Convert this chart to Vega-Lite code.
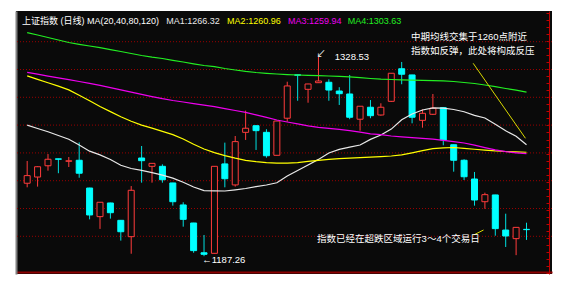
{
  "$schema": "https://vega.github.io/schema/vega-lite/v6.json",
  "width": 536,
  "height": 263,
  "autosize": "none",
  "padding": {"left": 16, "top": 11, "right": 18, "bottom": 15},
  "background": "#ffffff",
  "view": {"fill": "#0a0a0a", "stroke": null},
  "datasets": {
    "candles": [
      {"i":1,"o":1239.0,"h":1254.8,"l":1236.1,"c":1244.4,"MA1":1280.17,"MA2":1315.13,"MA3":1317.61,"MA4":1345.77},
      {"i":2,"o":1243.4,"h":1251.0,"l":1236.6,"c":1250.7,"MA1":1277.83,"MA2":1312.65,"MA3":1316.34,"MA4":1344.14},
      {"i":3,"o":1251.4,"h":1259.7,"l":1247.9,"c":1256.0,"MA1":1275.49,"MA2":1310.24,"MA3":1314.99,"MA4":1342.37},
      {"i":4,"o":1256.3,"h":1256.4,"l":1246.1,"c":1256.0,"MA1":1272.86,"MA2":1307.9,"MA3":1313.78,"MA4":1340.59},
      {"i":5,"o":1254.6,"h":1257.6,"l":1250.5,"c":1254.9,"MA1":1270.17,"MA2":1305.2,"MA3":1312.43,"MA4":1338.82},
      {"i":6,"o":1255.3,"h":1268.0,"l":1242.9,"c":1246.1,"MA1":1266.12,"MA2":1301.44,"MA3":1311.16,"MA4":1337.54},
      {"i":7,"o":1235.6,"h":1235.8,"l":1213.4,"c":1216.5,"MA1":1261.73,"MA2":1297.54,"MA3":1309.81,"MA4":1336.34},
      {"i":8,"o":1215.3,"h":1225.6,"l":1206.6,"c":1225.5,"MA1":1259.1,"MA2":1293.43,"MA3":1308.39,"MA4":1335.13},
      {"i":9,"o":1225.0,"h":1225.2,"l":1213.9,"c":1218.1,"MA1":1255.84,"MA2":1289.81,"MA3":1306.83,"MA4":1333.78},
      {"i":10,"o":1212.7,"h":1212.9,"l":1198.3,"c":1204.6,"MA1":1251.73,"MA2":1286.12,"MA3":1305.2,"MA4":1332.43},
      {"i":11,"o":1201.1,"h":1237.0,"l":1189.0,"c":1234.0,"MA1":1249.46,"MA2":1282.93,"MA3":1303.57,"MA4":1331.02},
      {"i":12,"o":1256.9,"h":1265.4,"l":1239.4,"c":1255.0,"MA1":1248.1,"MA2":1280.24,"MA3":1302.01,"MA4":1329.6},
      {"i":13,"o":1251.0,"h":1253.2,"l":1239.4,"c":1253.1,"MA1":1246.55,"MA2":1278.04,"MA3":1300.45,"MA4":1328.39},
      {"i":14,"o":1251.0,"h":1252.4,"l":1239.4,"c":1241.5,"MA1":1244.78,"MA2":1275.77,"MA3":1298.96,"MA4":1327.47},
      {"i":15,"o":1239.2,"h":1239.3,"l":1223.1,"c":1225.9,"MA1":1242.65,"MA2":1273.5,"MA3":1297.68,"MA4":1326.19},
      {"i":16,"o":1223.6,"h":1225.5,"l":1208.2,"c":1213.4,"MA1":1239.67,"MA2":1270.38,"MA3":1296.62,"MA4":1324.99},
      {"i":17,"o":1210.8,"h":1210.9,"l":1189.7,"c":1191.2,"MA1":1236.33,"MA2":1266.62,"MA3":1295.49,"MA4":1323.71},
      {"i":18,"o":1189.7,"h":1202.3,"l":1187.26,"c":1188.6,"MA1":1233.78,"MA2":1263.29,"MA3":1294.42,"MA4":1322.51},
      {"i":19,"o":1189.3,"h":1251.1,"l":1189.2,"c":1251.0,"MA1":1233.64,"MA2":1260.73,"MA3":1293.29,"MA4":1321.66},
      {"i":20,"o":1252.7,"h":1267.8,"l":1236.1,"c":1242.2,"MA1":1233.5,"MA2":1258.61,"MA3":1291.94,"MA4":1320.38},
      {"i":21,"o":1237.8,"h":1272.5,"l":1236.6,"c":1268.5,"MA1":1234.35,"MA2":1256.76,"MA3":1290.59,"MA4":1319.31},
      {"i":22,"o":1275.1,"h":1290.5,"l":1269.7,"c":1278.0,"MA1":1235.27,"MA2":1255.2,"MA3":1289.25,"MA4":1318.32},
      {"i":23,"o":1279.8,"h":1279.9,"l":1262.6,"c":1276.3,"MA1":1236.62,"MA2":1254.28,"MA3":1287.47,"MA4":1317.54},
      {"i":24,"o":1275.1,"h":1277.3,"l":1257.1,"c":1258.5,"MA1":1237.75,"MA2":1253.64,"MA3":1285.7,"MA4":1316.97},
      {"i":25,"o":1258.8,"h":1283.2,"l":1258.7,"c":1283.1,"MA1":1239.31,"MA2":1253.22,"MA3":1283.85,"MA4":1316.48},
      {"i":26,"o":1285.1,"h":1311.0,"l":1282.7,"c":1308.0,"MA1":1244.13,"MA2":1253.29,"MA3":1282.44,"MA4":1316.05},
      {"i":27,"o":1315.9,"h":1316.0,"l":1297.5,"c":1315.6,"MA1":1248.1,"MA2":1253.64,"MA3":1281.09,"MA4":1315.77},
      {"i":28,"o":1305.6,"h":1309.5,"l":1296.1,"c":1309.4,"MA1":1251.94,"MA2":1254.56,"MA3":1279.67,"MA4":1315.56},
      {"i":29,"o":1310.3,"h":1328.53,"l":1310.2,"c":1311.5,"MA1":1255.91,"MA2":1255.27,"MA3":1278.68,"MA4":1315.34},
      {"i":30,"o":1310.6,"h":1312.7,"l":1297.5,"c":1305.1,"MA1":1260.45,"MA2":1255.91,"MA3":1277.97,"MA4":1315.06},
      {"i":31,"o":1304.4,"h":1307.1,"l":1294.5,"c":1302.5,"MA1":1263.0,"MA2":1256.41,"MA3":1277.19,"MA4":1314.85},
      {"i":32,"o":1302.3,"h":1315.8,"l":1284.4,"c":1285.8,"MA1":1264.63,"MA2":1256.83,"MA3":1276.34,"MA4":1314.42},
      {"i":33,"o":1284.4,"h":1293.7,"l":1276.3,"c":1293.6,"MA1":1266.12,"MA2":1257.19,"MA3":1275.2,"MA4":1313.92},
      {"i":34,"o":1292.9,"h":1298.0,"l":1285.1,"c":1286.9,"MA1":1270.1,"MA2":1257.47,"MA3":1274.07,"MA4":1313.28},
      {"i":35,"o":1287.4,"h":1295.7,"l":1286.9,"c":1292.9,"MA1":1273.15,"MA2":1257.9,"MA3":1273.5,"MA4":1312.79},
      {"i":36,"o":1297.1,"h":1317.1,"l":1296.6,"c":1317.0,"MA1":1277.4,"MA2":1258.32,"MA3":1272.51,"MA4":1312.58},
      {"i":37,"o":1320.2,"h":1325.0,"l":1309.2,"c":1316.3,"MA1":1284.07,"MA2":1259.1,"MA3":1271.94,"MA4":1312.29},
      {"i":38,"o":1315.8,"h":1315.9,"l":1281.5,"c":1285.8,"MA1":1288.11,"MA2":1260.59,"MA3":1271.37,"MA4":1312.15},
      {"i":39,"o":1283.6,"h":1291.4,"l":1278.4,"c":1288.6,"MA1":1290.95,"MA2":1262.15,"MA3":1270.81,"MA4":1311.94},
      {"i":40,"o":1287.9,"h":1302.3,"l":1287.4,"c":1292.2,"MA1":1292.44,"MA2":1263.57,"MA3":1270.24,"MA4":1311.72},
      {"i":41,"o":1292.6,"h":1292.7,"l":1265.9,"c":1269.7,"MA1":1292.22,"MA2":1264.14,"MA3":1269.39,"MA4":1311.58},
      {"i":42,"o":1266.3,"h":1266.4,"l":1247.2,"c":1255.3,"MA1":1291.3,"MA2":1264.35,"MA3":1268.46,"MA4":1311.16},
      {"i":43,"o":1255.3,"h":1256.0,"l":1241.3,"c":1243.6,"MA1":1289.67,"MA2":1263.78,"MA3":1267.54,"MA4":1310.45},
      {"i":44,"o":1242.0,"h":1247.0,"l":1223.1,"c":1227.1,"MA1":1287.12,"MA2":1263.1,"MA3":1265.98,"MA4":1309.74},
      {"i":45,"o":1225.9,"h":1232.3,"l":1220.9,"c":1230.9,"MA1":1285.27,"MA2":1262.5,"MA3":1264.28,"MA4":1308.67},
      {"i":46,"o":1230.7,"h":1230.8,"l":1201.8,"c":1206.8,"MA1":1280.8,"MA2":1261.9,"MA3":1262.65,"MA4":1307.47},
      {"i":47,"o":1205.8,"h":1217.4,"l":1193.8,"c":1201.6,"MA1":1276.2,"MA2":1261.5,"MA3":1261.37,"MA4":1306.19},
      {"i":48,"o":1199.7,"h":1207.8,"l":1188.0,"c":1207.7,"MA1":1272.3,"MA2":1261.2,"MA3":1260.6,"MA4":1305.0},
      {"i":49,"o":1206.3,"h":1211.0,"l":1198.8,"c":1206.1,"MA1":1266.32,"MA2":1260.96,"MA3":1259.94,"MA4":1303.63}
    ],
    "grid": [
      {"p":1339.38},{"p":1319.67},{"p":1299.95},{"p":1280.24},
      {"p":1260.52},{"p":1240.80},{"p":1221.09},{"p":1201.37}
    ],
    "notes": [
      {"seg":"a","i":43.87,"p":1324.07},
      {"seg":"a","i":48.9,"p":1270.88},
      {"seg":"b","i":43.92,"p":1202.29},
      {"seg":"b","i":44.87,"p":1205.84}
    ],
    "labels": [
      {"i":0.5,"p":1354.07,"t":"上证指数 (日线)","k":"title"},
      {"i":6.74,"p":1354.07,"t":"MA(20,40,80,120)","k":"title"},
      {"i":14.37,"p":1354.07,"t":"MA1:1266.32","k":"MA1"},
      {"i":20.22,"p":1354.07,"t":"MA2:1260.96","k":"MA2"},
      {"i":26.07,"p":1354.07,"t":"MA3:1259.94","k":"MA3"},
      {"i":31.82,"p":1354.07,"t":"MA4:1303.63","k":"MA4"},
      {"i":37.89,"p":1342.93,"t":"中期均线交集于1260点附近","k":"note"},
      {"i":37.89,"p":1333.0,"t":"指数如反弹，此处将构成反压","k":"note"},
      {"i":28.87,"p":1199.24,"t":"指数已经在超跌区域运行3～4个交易日","k":"note"},
      {"i":28.8,"p":1330.3,"t":"↙","k":"note"},
      {"i":30.57,"p":1328.32,"t":"1328.53","k":"note"},
      {"i":17.83,"p":1184.56,"t":"←1187.26","k":"note"}
    ]
  },
  "resolve": {"axis": {"x": "independent", "y": "independent"}},
  "layer": [
    {
      "data": {"name": "grid"},
      "mark": {"type": "rule", "color": "#9a0000", "strokeDash": [1, 2], "strokeWidth": 1},
      "encoding": {
        "y": {"field": "p", "type": "quantitative",
              "scale": {"domain": [1174.63, 1361.15], "nice": false, "zero": false},
              "axis": {"orient": "left", "domainColor": "#808080", "domainWidth": 2, "ticks": false, "labels": false, "title": null, "grid": false}}
      }
    },
    {
      "data": {"name": "candles"},
      "mark": {"type": "rule", "strokeWidth": 1},
      "encoding": {
        "x": {"field": "i", "type": "quantitative",
              "scale": {"domain": [0.4057, 50.97], "nice": false, "zero": false},
              "axis": {"orient": "bottom", "offset": -2, "domainColor": "#8b0000", "domainWidth": 2, "ticks": false, "labels": false, "title": null, "grid": false}},
        "y": {"field": "l", "type": "quantitative",
              "scale": {"domain": [1174.63, 1361.15], "nice": false, "zero": false},
              "axis": {"orient": "right", "offset": -3, "domainColor": "#c00000", "domainWidth": 1, "tickColor": "#c00000", "tickSize": -3, "tickCount": 40, "labels": false, "title": null, "grid": false}},
        "y2": {"field": "h"},
        "color": {"condition": {"test": "datum.c >= datum.o", "value": "#ff3c3c"}, "value": "#00e0e0"}
      }
    },
    {
      "data": {"name": "candles"},
      "mark": {"type": "bar", "width": 6, "strokeWidth": 1},
      "encoding": {
        "x": {"field": "i", "type": "quantitative", "scale": {"domain": [0.4057, 50.97], "nice": false, "zero": false}, "axis": null},
        "y": {"field": "o", "type": "quantitative", "scale": {"domain": [1174.63, 1361.15], "nice": false, "zero": false}, "axis": null},
        "y2": {"field": "c"},
        "fill": {"condition": {"test": "datum.c >= datum.o", "value": "#0a0a0a"}, "value": "#00ffff"},
        "stroke": {"condition": {"test": "datum.c >= datum.o", "value": "#ff3c3c"}, "value": "#00ffff"}
      }
    },
    {
      "data": {"name": "candles"},
      "transform": [{"fold": ["MA1", "MA2", "MA3", "MA4"], "as": ["key", "val"]}],
      "mark": {"type": "line", "strokeWidth": 1.2},
      "encoding": {
        "x": {"field": "i", "type": "quantitative", "scale": {"domain": [0.4057, 50.97], "nice": false, "zero": false}, "axis": null},
        "y": {"field": "val", "type": "quantitative", "scale": {"domain": [1174.63, 1361.15], "nice": false, "zero": false}, "axis": null},
        "color": {"field": "key", "type": "nominal", "legend": null,
                  "scale": {"domain": ["title", "MA1", "MA2", "MA3", "MA4", "note"], "range": ["#ffffff", "#e8e8e8", "#ffff00", "#ee00ee", "#22ee22", "#ffffff"]}}
      }
    },
    {
      "data": {"name": "notes"},
      "mark": {"type": "line", "color": "#d8d800", "strokeWidth": 1},
      "encoding": {
        "x": {"field": "i", "type": "quantitative", "scale": {"domain": [0.4057, 50.97], "nice": false, "zero": false}, "axis": null},
        "y": {"field": "p", "type": "quantitative", "scale": {"domain": [1174.63, 1361.15], "nice": false, "zero": false}, "axis": null},
        "detail": {"field": "seg", "type": "nominal"}
      }
    },
    {
      "data": {"name": "labels"},
      "mark": {"type": "text", "align": "left", "baseline": "middle", "font": "Liberation Sans, Noto Sans CJK SC"},
      "encoding": {
        "x": {"field": "i", "type": "quantitative", "scale": {"domain": [0.4057, 50.97], "nice": false, "zero": false}, "axis": null},
        "y": {"field": "p", "type": "quantitative", "scale": {"domain": [1174.63, 1361.15], "nice": false, "zero": false}, "axis": null},
        "text": {"field": "t"},
        "size": {"condition": {"test": "datum.k != 'note'", "value": 9}, "value": 9.5},
        "color": {"field": "k", "type": "nominal", "legend": null,
                  "scale": {"domain": ["title", "MA1", "MA2", "MA3", "MA4", "note"], "range": ["#ffffff", "#e8e8e8", "#ffff00", "#ee00ee", "#22ee22", "#ffffff"]}}
      }
    }
  ]
}
